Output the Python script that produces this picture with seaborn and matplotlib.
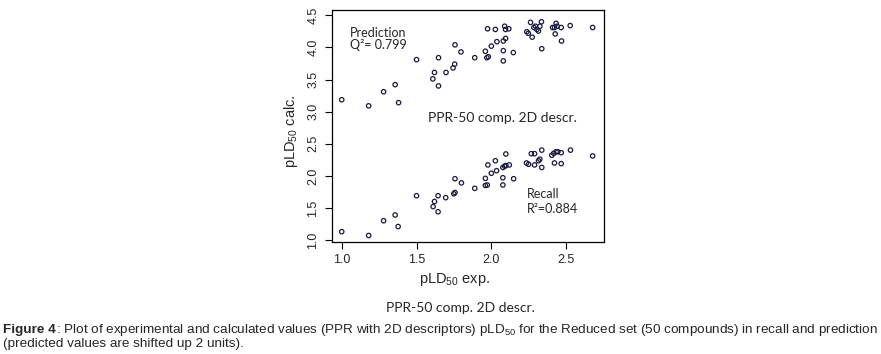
import seaborn as sns
from matplotlib import pyplot as plt
import pandas as pd

# recall: experimental vs calculated pLD50
recall_exp = [1.00, 1.18, 1.28, 1.357, 1.377, 1.50, 1.644, 1.62, 1.611, 1.644,
              1.695, 1.749, 1.757, 1.757, 1.80, 1.889, 1.96, 1.973, 1.96, 1.977,
              2.00, 2.027, 2.035, 2.077, 2.077, 2.077, 2.089, 2.097, 2.097, 2.12,
              2.149, 2.235, 2.249, 2.267, 2.289, 2.289, 2.315, 2.324, 2.337, 2.337,
              2.404, 2.417, 2.433, 2.444, 2.467, 2.422, 2.467, 2.529, 2.677]
recall_calc = [1.13, 1.07, 1.30, 1.39, 1.21, 1.69, 1.69, 1.60, 1.52, 1.44,
               1.66, 1.72, 1.74, 1.955, 1.89, 1.805, 1.85, 1.857, 1.96, 2.17,
               2.04, 2.235, 2.08, 1.97, 1.857, 2.13, 2.15, 2.16, 2.34, 2.17,
               1.955, 2.20, 2.18, 2.345, 2.345, 2.17, 2.235, 2.26, 2.40, 2.13,
               2.32, 2.35, 2.375, 2.375, 2.36, 2.20, 2.19, 2.40, 2.31]

# prediction (values as plotted, i.e. shifted up 2 units)
pred_exp = [1.00, 1.18, 1.28, 1.357, 1.38, 1.50, 1.647, 1.62, 1.609, 1.647,
            1.697, 1.744, 1.755, 1.757, 1.797, 1.889, 1.97, 1.98, 1.96, 1.975,
            2.00, 2.027, 2.037, 2.08, 2.08, 2.08, 2.095, 2.089, 2.095, 2.117,
            2.147, 2.237, 2.247, 2.273, 2.262, 2.284, 2.295, 2.304, 2.315, 2.324,
            2.335, 2.337, 2.409, 2.422, 2.433, 2.44, 2.427, 2.467, 2.469, 2.527,
            2.677]
pred_calc = [3.185, 3.09, 3.31, 3.42, 3.14, 3.81, 3.84, 3.61, 3.51, 3.40,
             3.61, 3.68, 3.74, 4.04, 3.93, 3.84, 3.84, 3.855, 3.94, 4.29,
             4.02, 4.28, 4.09, 3.95, 3.79, 4.10, 4.14, 4.33, 4.28, 4.29,
             3.92, 4.245, 4.22, 4.16, 4.39, 4.31, 4.33, 4.28, 4.255, 4.33,
             4.40, 3.98, 4.31, 4.31, 4.375, 4.33, 4.21, 4.31, 4.10, 4.34,
             4.31]

x_ticks = [1.0, 1.5, 2.0, 2.5]
y_ticks = [1.0, 1.5, 2.0, 2.5, 3.0, 3.5, 4.0, 4.5]

df = pd.concat([
    pd.DataFrame({'exp': recall_exp, 'calc': recall_calc, 'set': 'recall'}),
    pd.DataFrame({'exp': pred_exp, 'calc': pred_calc, 'set': 'prediction'}),
])

sns.set_theme(style='white')
plt.rcParams['font.family'] = ['Liberation Sans', 'DejaVu Sans']
plt.rcParams['mathtext.default'] = 'regular'

W, H = 881, 354
fig = plt.figure(figsize=(W / 100, H / 100), dpi=100)
ax = fig.add_axes([332 / W, 1 - 241.5 / H, (604 - 332) / W, (241.5 - 10) / H])

sns.scatterplot(x='exp', y='calc', data=df, ax=ax, s=10, marker='o',
                facecolor='none', edgecolor='#1a1a40', linewidth=0.9, legend=False)

ax.set_xlim(0.935, 2.753)
ax.set_ylim(0.977, 4.583)
ax.set_xticks(x_ticks)
ax.set_xticklabels([f'{v:.1f}' for v in x_ticks], fontsize=9)
ax.set_yticks(y_ticks)
ax.set_yticklabels([f'{v:.1f}' for v in y_ticks], fontsize=9, rotation=90, va='center')
ax.tick_params(axis='both', direction='out', length=5, width=0.8, color='black',
               bottom=True, left=True, pad=4)
for sp in ax.spines.values():
    sp.set_color('black')
    sp.set_linewidth(0.9)
ax.set_xlabel('')
ax.set_ylabel('')

cal = ['Lato', 'DejaVu Sans']
ax.text(0.066, 0.90, 'Prediction', transform=ax.transAxes, fontsize=9, family=cal, va='center')
ax.text(0.066, 0.85, 'Q²= 0.799', transform=ax.transAxes, fontsize=9, family=cal, va='center')
ax.text(0.353, 0.535, 'PPR-50 comp. 2D descr.', transform=ax.transAxes, fontsize=10,
        family=cal, va='center')
ax.text(0.717, 0.205, 'Recall', transform=ax.transAxes, fontsize=9, family=cal, va='center')
ax.text(0.717, 0.14, 'R²=0.884', transform=ax.transAxes, fontsize=9, family=cal, va='center')

fig.text(455 / W, 1 - 279 / H, 'pLD$_{50}$ exp.', ha='center', va='center', fontsize=10.5)
fig.text(291 / W, 1 - 131 / H, 'pLD$_{50}$ calc.', ha='center', va='center', fontsize=10.5,
         rotation=90)
fig.text(460 / W, 1 - 308 / H, 'PPR-50 comp. 2D descr.', ha='center', va='center',
         fontsize=10, family=cal)

narrow = ['Liberation Sans Narrow', 'Liberation Sans', 'DejaVu Sans']
t1 = fig.text(3 / W, 1 - 329.5 / H, 'Figure 4', fontsize=9.7, family=narrow,
              weight='bold', va='center')
fig.canvas.draw()
bb = t1.get_window_extent()
fig.text(bb.x1 / W, 1 - 329.5 / H,
         ': Plot of experimental and calculated values (PPR with 2D descriptors) pLD$_{50}$ '
         'for the Reduced set (50 compounds) in recall and prediction',
         fontsize=9.7, family=narrow, va='center')
fig.text(3 / W, 1 - 344 / H, '(predicted values are shifted up 2 units).',
         fontsize=9.7, family=narrow, va='center')

fig.savefig('out.png', dpi=100)
